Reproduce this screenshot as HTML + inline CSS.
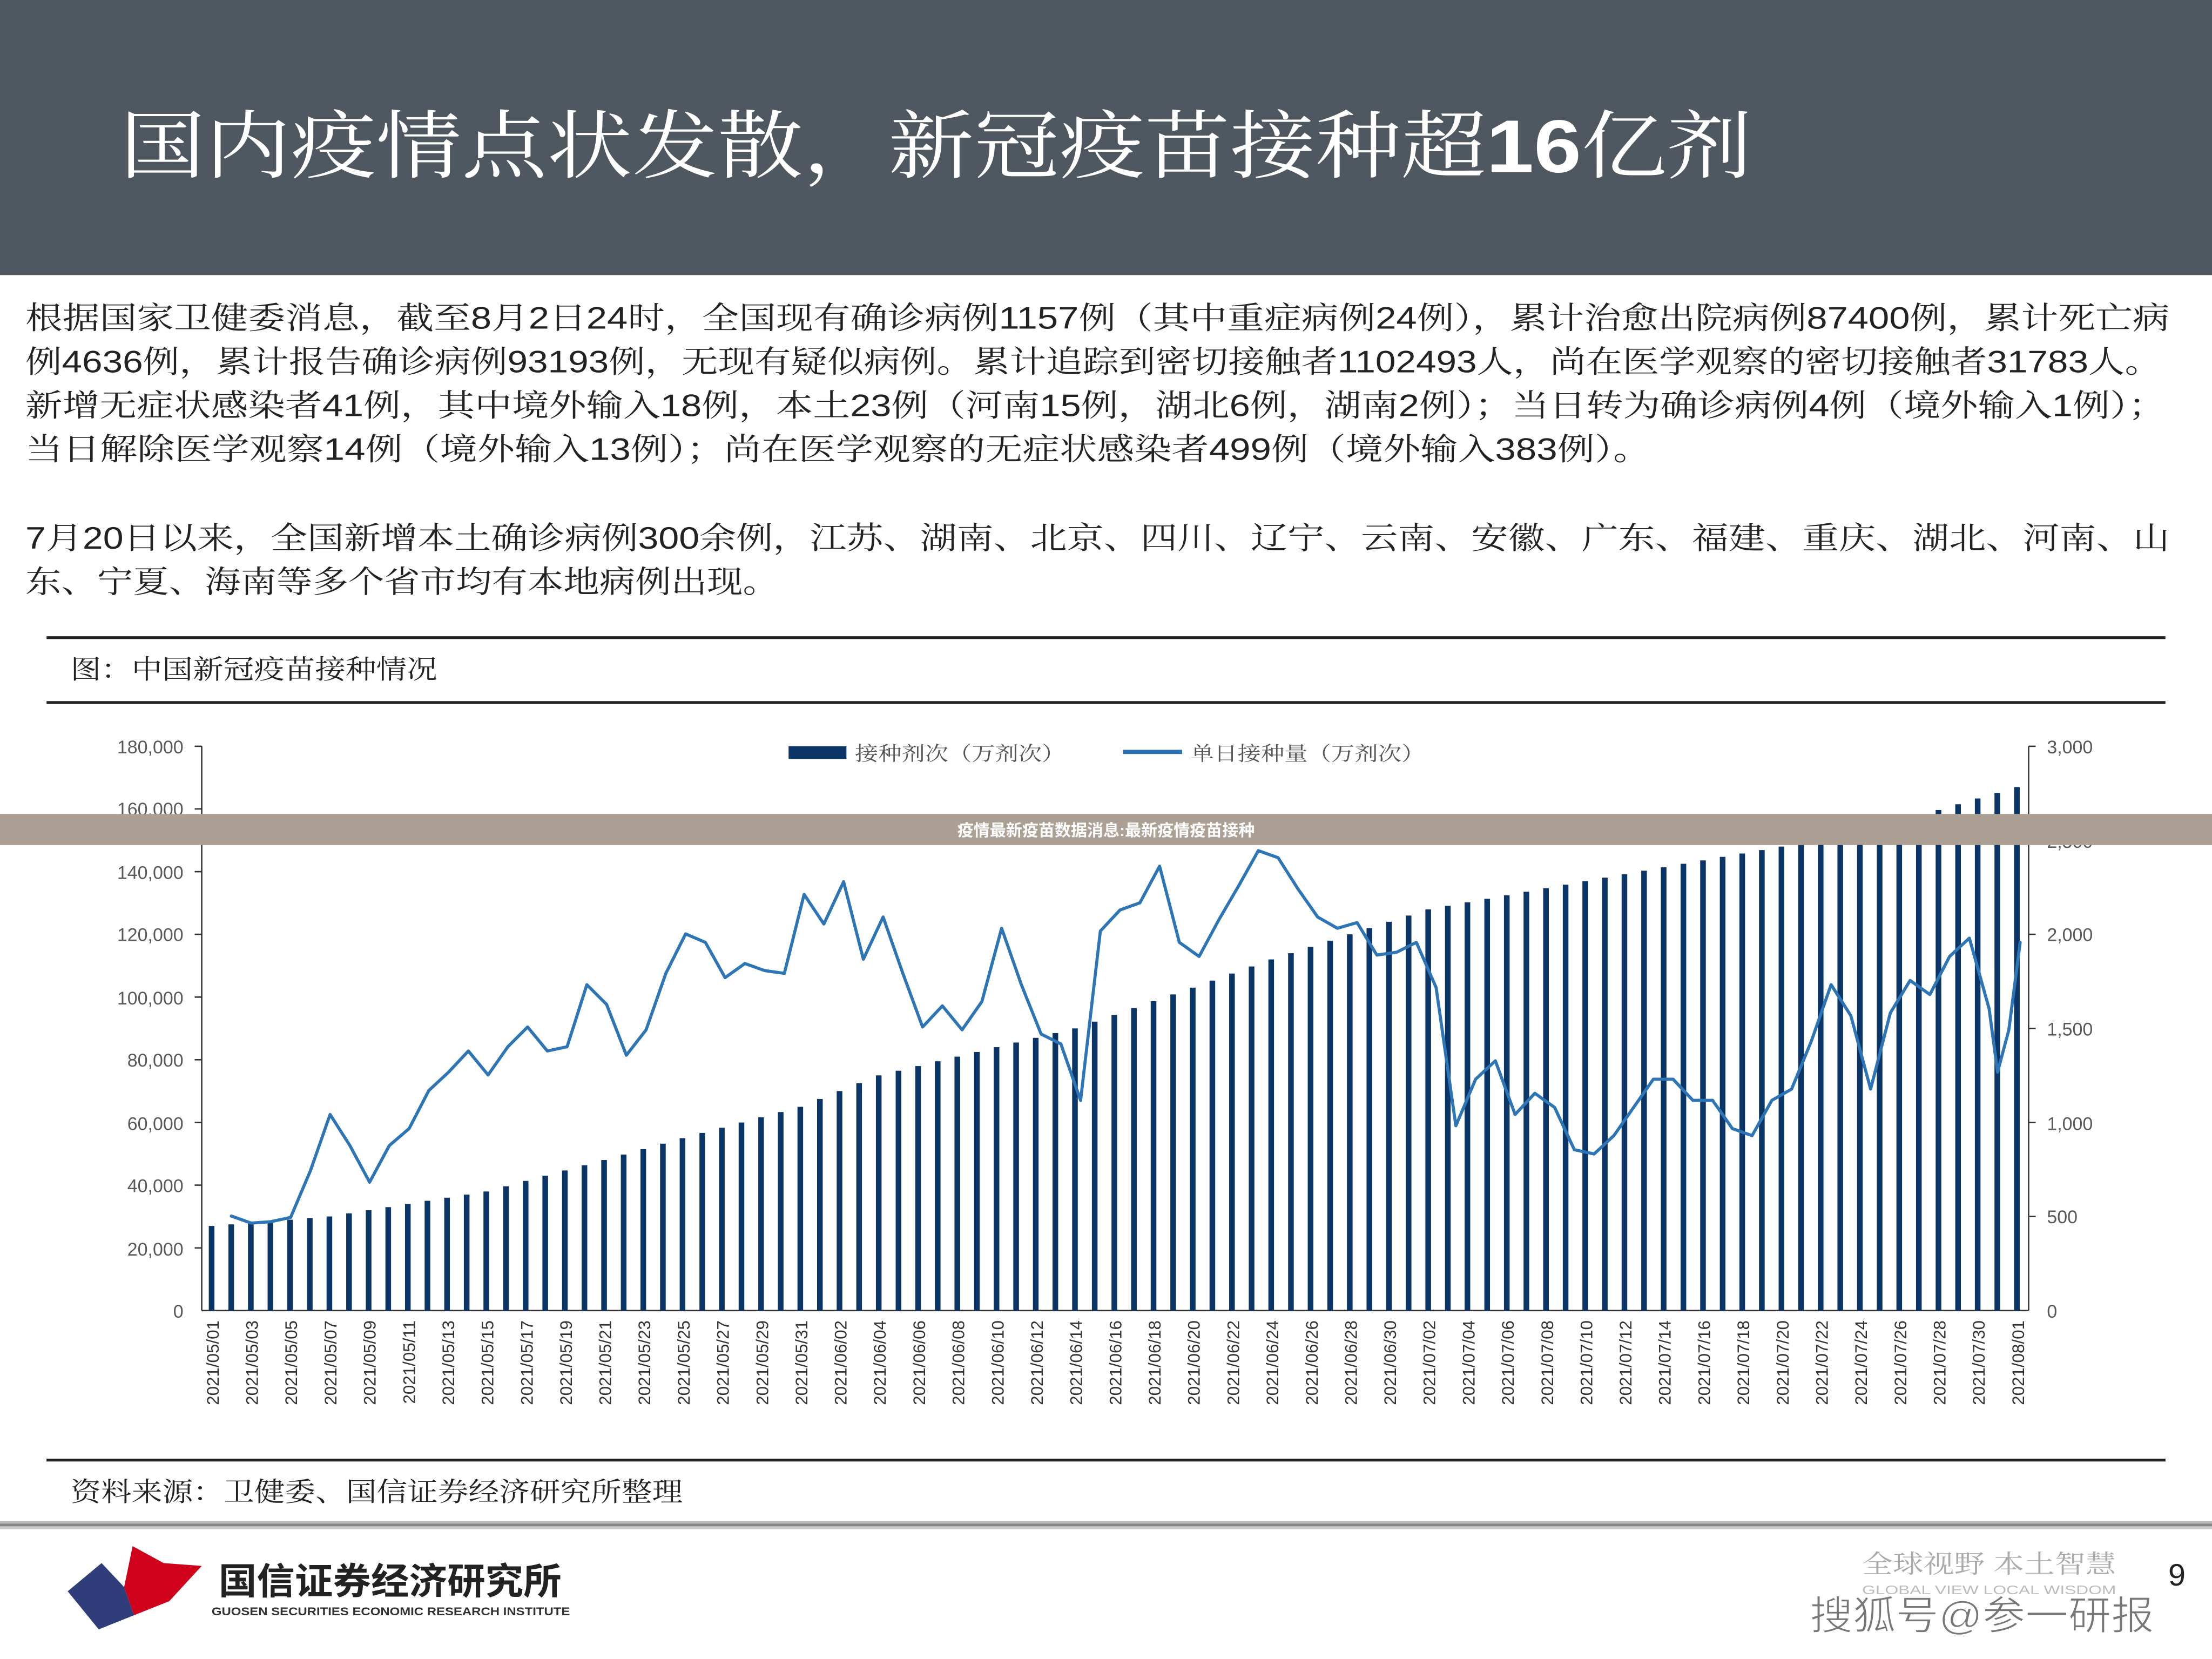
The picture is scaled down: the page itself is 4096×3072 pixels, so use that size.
<!DOCTYPE html>
<html><head><meta charset="utf-8"><style>
html,body{margin:0;padding:0;background:#fff;}
svg{display:block;}
text{font-family:"Liberation Sans","Noto Serif CJK SC",serif;}
</style></head><body>
<svg width="4096" height="3072" viewBox="0 0 1568 1176" preserveAspectRatio="none" xmlns="http://www.w3.org/2000/svg">
<rect x="0" y="0" width="1568" height="1176" fill="#fff"/>
<rect x="0" y="0" width="1568" height="195" fill="#4f5760"/>
<text x="85" y="122" font-size="53" fill="#fff" textLength="1157" lengthAdjust="spacingAndGlyphs">国内疫情点状发散，新冠疫苗接种超<tspan font-weight="bold">16</tspan>亿剂</text>

<g font-size="22" fill="#222">
<text x="18" y="233" textLength="1520" lengthAdjust="spacingAndGlyphs">根据国家卫健委消息，截至8月2日24时，全国现有确诊病例1157例（其中重症病例24例），累计治愈出院病例87400例，累计死亡病</text>
<text x="18" y="264" textLength="1514" lengthAdjust="spacingAndGlyphs">例4636例，累计报告确诊病例93193例，无现有疑似病例。累计追踪到密切接触者1102493人，尚在医学观察的密切接触者31783人。</text>
<text x="18" y="295" textLength="1517" lengthAdjust="spacingAndGlyphs">新增无症状感染者41例，其中境外输入18例，本土23例（河南15例，湖北6例，湖南2例）；当日转为确诊病例4例（境外输入1例）；</text>
<text x="18" y="326" textLength="1152" lengthAdjust="spacingAndGlyphs">当日解除医学观察14例（境外输入13例）；尚在医学观察的无症状感染者499例（境外输入383例）。</text>
<text x="18" y="389" textLength="1520" lengthAdjust="spacingAndGlyphs">7月20日以来，全国新增本土确诊病例300余例，江苏、湖南、北京、四川、辽宁、云南、安徽、广东、福建、重庆、湖北、河南、山</text>
<text x="18" y="420" textLength="534" lengthAdjust="spacingAndGlyphs">东、宁夏、海南等多个省市均有本地病例出现。</text>
</g>

<rect x="33" y="451" width="1502" height="2" fill="#222"/>
<text x="50" y="481" font-size="19" fill="#222" textLength="260" lengthAdjust="spacingAndGlyphs">图：中国新冠疫苗接种情况</text>
<rect x="33" y="497" width="1502" height="2" fill="#222"/>

<g stroke="#333" stroke-width="1">
<line x1="143" y1="529" x2="143" y2="929"/>
<line x1="1438" y1="529" x2="1438" y2="929"/>
<line x1="143" y1="929" x2="1438" y2="929"/>
<line x1="138" y1="529" x2="143" y2="529"/><line x1="138" y1="573.4" x2="143" y2="573.4"/><line x1="138" y1="617.9" x2="143" y2="617.9"/><line x1="138" y1="662.3" x2="143" y2="662.3"/><line x1="138" y1="706.8" x2="143" y2="706.8"/><line x1="138" y1="751.2" x2="143" y2="751.2"/><line x1="138" y1="795.7" x2="143" y2="795.7"/><line x1="138" y1="840.1" x2="143" y2="840.1"/><line x1="138" y1="884.6" x2="143" y2="884.6"/>
<line x1="1438" y1="529" x2="1443" y2="529"/><line x1="1438" y1="595.7" x2="1443" y2="595.7"/><line x1="1438" y1="662.3" x2="1443" y2="662.3"/><line x1="1438" y1="729" x2="1443" y2="729"/><line x1="1438" y1="795.7" x2="1443" y2="795.7"/><line x1="1438" y1="862.3" x2="1443" y2="862.3"/>
</g>
<g font-size="13" fill="#595959" text-anchor="end">
<text x="130" y="534">180,000</text><text x="130" y="578">160,000</text><text x="130" y="623">140,000</text><text x="130" y="667">120,000</text><text x="130" y="712">100,000</text><text x="130" y="756">80,000</text><text x="130" y="801">60,000</text><text x="130" y="845">40,000</text><text x="130" y="890">20,000</text><text x="130" y="934">0</text>
</g>
<g font-size="13" fill="#595959">
<text x="1451" y="534">3,000</text><text x="1451" y="601">2,500</text><text x="1451" y="667">2,000</text><text x="1451" y="734">1,500</text><text x="1451" y="801">1,000</text><text x="1451" y="867">500</text><text x="1451" y="934">0</text>
</g>

<rect x="559" y="529" width="41" height="9" fill="#0b3566"/>
<text x="606" y="539" font-size="14" fill="#555" textLength="149" lengthAdjust="spacingAndGlyphs">接种剂次（万剂次）</text>
<line x1="796" y1="533" x2="838" y2="533" stroke="#2e75b6" stroke-width="3"/>
<text x="844" y="539" font-size="14" fill="#555" textLength="166" lengthAdjust="spacingAndGlyphs">单日接种量（万剂次）</text>

<g fill="#0b3566">
<rect x="148" y="869" width="4" height="60"/><rect x="161.9" y="867.9" width="4" height="61.1"/><rect x="175.8" y="866.8" width="4" height="62.2"/><rect x="189.7" y="865.7" width="4" height="63.3"/><rect x="203.6" y="864.6" width="4" height="64.4"/><rect x="217.6" y="863.4" width="4" height="65.6"/><rect x="231.5" y="862.3" width="4" height="66.7"/><rect x="245.4" y="860.1" width="4" height="68.9"/><rect x="259.3" y="857.9" width="4" height="71.1"/><rect x="273.2" y="855.7" width="4" height="73.3"/>
<rect x="287.1" y="853.4" width="4" height="75.6"/><rect x="301" y="851.2" width="4" height="77.8"/><rect x="314.9" y="849" width="4" height="80"/><rect x="328.8" y="846.8" width="4" height="82.2"/><rect x="342.7" y="844.6" width="4" height="84.4"/><rect x="356.7" y="840.9" width="4" height="88.1"/><rect x="370.6" y="837.1" width="4" height="91.9"/><rect x="384.5" y="833.4" width="4" height="95.6"/><rect x="398.4" y="829.7" width="4" height="99.3"/><rect x="412.3" y="826" width="4" height="103"/>
<rect x="426.2" y="822.3" width="4" height="106.7"/><rect x="440.1" y="818.4" width="4" height="110.6"/><rect x="454" y="814.6" width="4" height="114.4"/><rect x="467.9" y="810.7" width="4" height="118.3"/><rect x="481.8" y="806.8" width="4" height="122.2"/><rect x="495.8" y="803.1" width="4" height="125.9"/><rect x="509.7" y="799.4" width="4" height="129.6"/><rect x="523.6" y="795.7" width="4" height="133.3"/><rect x="537.5" y="792" width="4" height="137"/><rect x="551.4" y="788.3" width="4" height="140.7"/>
<rect x="565.3" y="784.6" width="4" height="144.4"/><rect x="579.2" y="779" width="4" height="150"/><rect x="593.1" y="773.4" width="4" height="155.6"/><rect x="607" y="767.9" width="4" height="161.1"/><rect x="620.9" y="762.3" width="4" height="166.7"/><rect x="634.9" y="759" width="4" height="170"/><rect x="648.8" y="755.7" width="4" height="173.3"/><rect x="662.7" y="752.3" width="4" height="176.7"/><rect x="676.6" y="749" width="4" height="180"/><rect x="690.5" y="745.7" width="4" height="183.3"/>
<rect x="704.4" y="742.3" width="4" height="186.7"/><rect x="718.3" y="739" width="4" height="190"/><rect x="732.2" y="735.7" width="4" height="193.3"/><rect x="746.1" y="732.3" width="4" height="196.7"/><rect x="760" y="729" width="4" height="200"/><rect x="774" y="724.2" width="4" height="204.8"/><rect x="787.9" y="719.4" width="4" height="209.6"/><rect x="801.8" y="714.6" width="4" height="214.4"/><rect x="815.7" y="709.7" width="4" height="219.3"/><rect x="829.6" y="704.9" width="4" height="224.1"/>
<rect x="843.5" y="700.1" width="4" height="228.9"/><rect x="857.4" y="695.1" width="4" height="233.9"/><rect x="871.3" y="690.1" width="4" height="238.9"/><rect x="885.2" y="685.1" width="4" height="243.9"/><rect x="899.1" y="680.1" width="4" height="248.9"/><rect x="913.1" y="675.7" width="4" height="253.3"/><rect x="927" y="671.2" width="4" height="257.8"/><rect x="940.9" y="666.8" width="4" height="262.2"/><rect x="954.8" y="662.3" width="4" height="266.7"/><rect x="968.7" y="657.9" width="4" height="271.1"/>
<rect x="982.6" y="653.4" width="4" height="275.6"/><rect x="996.5" y="649" width="4" height="280"/><rect x="1010.4" y="644.6" width="4" height="284.4"/><rect x="1024.3" y="642.1" width="4" height="286.9"/><rect x="1038.2" y="639.6" width="4" height="289.4"/><rect x="1052.2" y="637.1" width="4" height="291.9"/><rect x="1066.1" y="634.6" width="4" height="294.4"/><rect x="1080" y="632.1" width="4" height="296.9"/><rect x="1093.9" y="629.6" width="4" height="299.4"/><rect x="1107.8" y="627.1" width="4" height="301.9"/>
<rect x="1121.7" y="624.6" width="4" height="304.4"/><rect x="1135.6" y="622.1" width="4" height="306.9"/><rect x="1149.5" y="619.7" width="4" height="309.3"/><rect x="1163.4" y="617.2" width="4" height="311.8"/><rect x="1177.3" y="614.8" width="4" height="314.2"/><rect x="1191.3" y="612.3" width="4" height="316.7"/><rect x="1205.2" y="609.9" width="4" height="319.1"/><rect x="1219.1" y="607.4" width="4" height="321.6"/><rect x="1233" y="605" width="4" height="324"/><rect x="1246.9" y="602.6" width="4" height="326.4"/>
<rect x="1260.8" y="600.1" width="4" height="328.9"/><rect x="1274.7" y="597.1" width="4" height="331.9"/><rect x="1288.6" y="594.2" width="4" height="334.8"/><rect x="1302.5" y="591.2" width="4" height="337.8"/><rect x="1316.4" y="588.3" width="4" height="340.7"/><rect x="1330.4" y="585.3" width="4" height="343.7"/><rect x="1344.3" y="582.3" width="4" height="346.7"/><rect x="1358.2" y="578.3" width="4" height="350.7"/><rect x="1372.1" y="574.2" width="4" height="354.8"/><rect x="1386" y="570.1" width="4" height="358.9"/>
<rect x="1399.9" y="566" width="4" height="363"/><rect x="1413.8" y="562" width="4" height="367"/><rect x="1427.7" y="557.9" width="4" height="371.1"/>
</g>

<polyline fill="none" stroke="#2e75b6" stroke-width="2.2" stroke-linejoin="round" stroke-linecap="round" points="164,862 178,867 192,866 206,863 220,830 234,790 248,812 262,838 276,812 290,800 304,773 318,760 332,745 346,762 360,742 374,728 388,745 402,742 416,698 430,712 444,748 458,730 472,690 486,662 500,668 514,693 528,683 542,688 556,690 570,634 584,655 598,625 612,680 626,650 640,690 654,728 668,713 682,730 696,710 710,658 724,698 738,733 752,740 766,780 780,660 794,645 808,640 822,614 836,668 850,678 864,652 878,628 892,603 906,608 920,630 934,650 948,658 962,654 976,677 990,675 1004,668 1018,700 1032,798 1046,765 1060,752 1074,790 1088,775 1102,785 1116,815 1130,818 1144,805 1158,785 1172,765 1186,765 1200,780 1214,780 1228,800 1242,805 1256,780 1270,772 1284,738 1298,698 1312,720 1326,772 1340,718 1354,695 1368,705 1382,678 1396,665 1410,715 1416,760 1424,730 1432,668"/>

<g font-size="12" fill="#333" text-anchor="end">
<text transform="translate(155,936) rotate(-90)">2021/05/01</text>
<text transform="translate(182.8,936) rotate(-90)">2021/05/03</text>
<text transform="translate(210.6,936) rotate(-90)">2021/05/05</text>
<text transform="translate(238.5,936) rotate(-90)">2021/05/07</text>
<text transform="translate(266.3,936) rotate(-90)">2021/05/09</text>
<text transform="translate(294.1,936) rotate(-90)">2021/05/11</text>
<text transform="translate(321.9,936) rotate(-90)">2021/05/13</text>
<text transform="translate(349.7,936) rotate(-90)">2021/05/15</text>
<text transform="translate(377.6,936) rotate(-90)">2021/05/17</text>
<text transform="translate(405.4,936) rotate(-90)">2021/05/19</text>
<text transform="translate(433.2,936) rotate(-90)">2021/05/21</text>
<text transform="translate(461,936) rotate(-90)">2021/05/23</text>
<text transform="translate(488.8,936) rotate(-90)">2021/05/25</text>
<text transform="translate(516.7,936) rotate(-90)">2021/05/27</text>
<text transform="translate(544.5,936) rotate(-90)">2021/05/29</text>
<text transform="translate(572.3,936) rotate(-90)">2021/05/31</text>
<text transform="translate(600.1,936) rotate(-90)">2021/06/02</text>
<text transform="translate(627.9,936) rotate(-90)">2021/06/04</text>
<text transform="translate(655.8,936) rotate(-90)">2021/06/06</text>
<text transform="translate(683.6,936) rotate(-90)">2021/06/08</text>
<text transform="translate(711.4,936) rotate(-90)">2021/06/10</text>
<text transform="translate(739.2,936) rotate(-90)">2021/06/12</text>
<text transform="translate(767,936) rotate(-90)">2021/06/14</text>
<text transform="translate(794.9,936) rotate(-90)">2021/06/16</text>
<text transform="translate(822.7,936) rotate(-90)">2021/06/18</text>
<text transform="translate(850.5,936) rotate(-90)">2021/06/20</text>
<text transform="translate(878.3,936) rotate(-90)">2021/06/22</text>
<text transform="translate(906.1,936) rotate(-90)">2021/06/24</text>
<text transform="translate(934,936) rotate(-90)">2021/06/26</text>
<text transform="translate(961.8,936) rotate(-90)">2021/06/28</text>
<text transform="translate(989.6,936) rotate(-90)">2021/06/30</text>
<text transform="translate(1017.4,936) rotate(-90)">2021/07/02</text>
<text transform="translate(1045.2,936) rotate(-90)">2021/07/04</text>
<text transform="translate(1073.1,936) rotate(-90)">2021/07/06</text>
<text transform="translate(1100.9,936) rotate(-90)">2021/07/08</text>
<text transform="translate(1128.7,936) rotate(-90)">2021/07/10</text>
<text transform="translate(1156.5,936) rotate(-90)">2021/07/12</text>
<text transform="translate(1184.3,936) rotate(-90)">2021/07/14</text>
<text transform="translate(1212.2,936) rotate(-90)">2021/07/16</text>
<text transform="translate(1240,936) rotate(-90)">2021/07/18</text>
<text transform="translate(1267.8,936) rotate(-90)">2021/07/20</text>
<text transform="translate(1295.6,936) rotate(-90)">2021/07/22</text>
<text transform="translate(1323.4,936) rotate(-90)">2021/07/24</text>
<text transform="translate(1351.3,936) rotate(-90)">2021/07/26</text>
<text transform="translate(1379.1,936) rotate(-90)">2021/07/28</text>
<text transform="translate(1406.9,936) rotate(-90)">2021/07/30</text>
<text transform="translate(1434.7,936) rotate(-90)">2021/08/01</text>
</g>

<rect x="0" y="577" width="1568" height="22" fill="#aca095"/>
<text x="784" y="592.5" font-size="11.5" font-weight="bold" fill="#fff" text-anchor="middle" style="font-family:'Liberation Sans','Noto Sans CJK SC',sans-serif">疫情最新疫苗数据消息:最新疫情疫苗接种</text>

<rect x="33" y="1034" width="1502" height="2" fill="#222"/>
<text x="50" y="1064" font-size="19" fill="#222" textLength="434" lengthAdjust="spacingAndGlyphs">资料来源：卫健委、国信证券经济研究所整理</text>
<rect x="0" y="1078" width="1568" height="2" fill="#bbb"/>
<rect x="0" y="1080" width="1568" height="2" fill="#888"/>
<rect x="0" y="1082" width="1568" height="2" fill="#ccc"/>

<polygon points="72,1108 48,1128 70,1155 95,1145 88,1125" fill="#2f3d7a"/>
<polygon points="94,1096 116,1108 143,1110 120,1135 95,1145 88,1125" fill="#d0021b"/>
<text x="155" y="1130" font-size="26" font-weight="bold" fill="#222" style="font-family:'Liberation Sans','Noto Sans CJK SC',sans-serif" textLength="243" lengthAdjust="spacingAndGlyphs">国信证券经济研究所</text>
<text x="150" y="1145" font-size="8" font-weight="bold" fill="#333" textLength="254" lengthAdjust="spacingAndGlyphs">GUOSEN SECURITIES ECONOMIC RESEARCH INSTITUTE</text>

<text x="1320" y="1115" font-size="18" fill="#aaa" textLength="180" lengthAdjust="spacingAndGlyphs">全球视野  本土智慧</text>
<text x="1320" y="1130" font-size="9" fill="#bbb" textLength="180" lengthAdjust="spacingAndGlyphs">GLOBAL VIEW  LOCAL WISDOM</text>
<text x="1537" y="1124" font-size="22" fill="#222">9</text>
<text x="1283" y="1155" font-size="28" fill="#777" stroke="#fff" stroke-width="0.6" style="font-family:'Liberation Sans','Noto Sans CJK SC',sans-serif" textLength="244" lengthAdjust="spacingAndGlyphs">搜狐号@参一研报</text>
</svg>
</body></html>
